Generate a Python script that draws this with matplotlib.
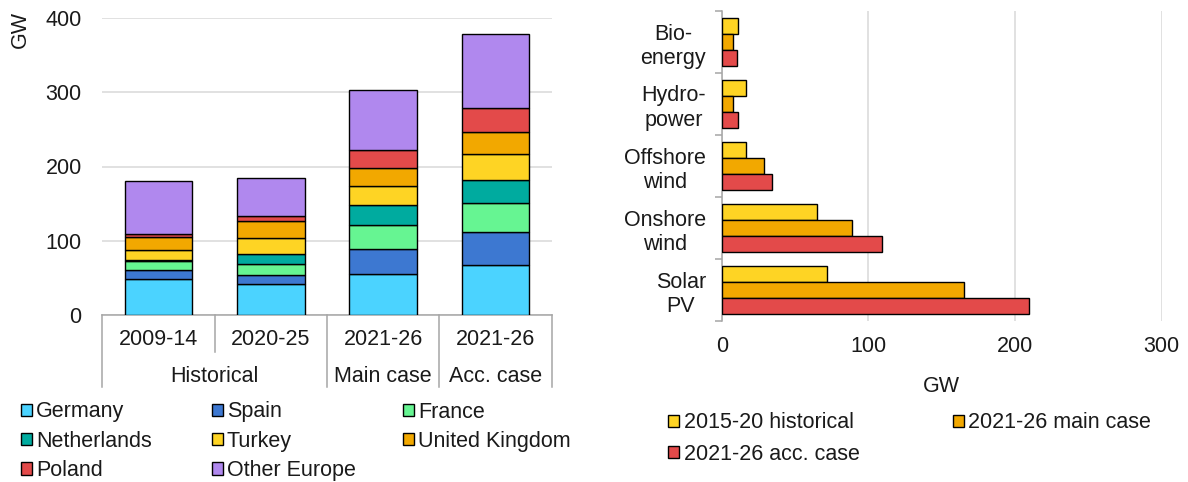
import matplotlib
matplotlib.use("Agg")
import matplotlib.pyplot as plt
import matplotlib.transforms as mtransforms
from matplotlib.patches import Patch
import numpy as np

plt.rcParams['font.family'] = ['Liberation Sans', 'DejaVu Sans']

# ---------------- data: left chart ----------------
periods = ['2009-14', '2020-25', '2021-26', '2021-26']
group_names = ['Historical', 'Main case', 'Acc. case']
group_of_bar = [0, 0, 1, 2]

countries = ['Germany', 'Spain', 'France', 'Netherlands', 'Turkey',
             'United Kingdom', 'Poland', 'Other Europe']
germany = [48.7, 41.6, 55.4, 67.1]
spain = [11.7, 12.5, 34.1, 44.7]
france = [11.7, 14.8, 31.3, 39.5]
netherlands = [1.5, 13.4, 26.8, 30.9]
turkey = [13.4, 21.0, 25.9, 34.0]
united_kingdom = [17.9, 23.2, 25.1, 29.9]
poland = [4.5, 6.7, 23.2, 32.8]
other_europe = [70.7, 51.0, 81.5, 100.1]
left_yticks = [0, 100, 200, 300, 400]

# ---------------- data: right chart ----------------
techs = ['Bio-\nenergy', 'Hydro-\npower', 'Offshore\nwind', 'Onshore\nwind', 'Solar\nPV']
series_names = ['2015-20 historical', '2021-26 main case', '2021-26 acc. case']
hist_2015_20 = [11.3, 16.4, 16.6, 65.0, 72.0]
main_2021_26 = [7.6, 7.6, 28.5, 88.7, 165.2]
acc_2021_26 = [10.6, 10.8, 34.3, 109.3, 209.7]
right_xticks = [0, 100, 200, 300]

# ---------------- styles ----------------
country_colors = ['#4bd3ff', '#3d78d1', '#66f592', '#00ab9f', '#fed424',
                  '#f2a800', '#e34a4a', '#b088ee']
series_colors = ['#fed424', '#f2a800', '#e34a4a']
TXT = '#1a1a1a'
GRID = '#d9d9d9'
AXC = '#a6a6a6'
FS = 15.5
W, H = 1188, 482

fig = plt.figure(figsize=(W / 100, H / 100), dpi=100)


def fx(px):
    return px / W


def fy(py):
    return 1 - py / H


# ---------------- left axes ----------------
L_l, L_r, L_t, L_b = 102.3, 551.7, 18.0, 315.0
axL = fig.add_axes([fx(L_l), fy(L_b), fx(L_r - L_l), (L_b - L_t) / H])
ax_h_px = L_b - L_t

stack = [germany, spain, france, netherlands, turkey, united_kingdom,
         poland, other_europe]
x = np.arange(len(periods))
bottom = np.zeros(len(periods))
for vals, col, name in zip(stack, country_colors, countries):
    axL.bar(x, vals, 0.6, bottom=bottom, color=col, edgecolor='black',
            linewidth=1.0, label=name, zorder=3)
    bottom += np.array(vals)

axL.set_xlim(-0.5, len(periods) - 0.5)
axL.set_ylim(0, 400)
axL.set_yticks(left_yticks)
axL.tick_params(axis='y', length=0, pad=14.8, labelsize=FS, labelcolor=TXT)
axL.set_xticks([])
axL.grid(axis='y', color=GRID, linewidth=1.1, zorder=0)
axL.set_axisbelow(True)
for s in ['top', 'right', 'left']:
    axL.spines[s].set_visible(False)
axL.spines['bottom'].set_color(AXC)
axL.spines['bottom'].set_linewidth(1.1)

blend = mtransforms.blended_transform_factory(axL.transData, axL.transAxes)
# category separators (multi-level axis)
n = len(periods)
for i in range(n + 1):
    long_line = (i == 0 or i == n or group_of_bar[i - 1] != group_of_bar[i])
    depth = 72.0 if long_line else 36.7
    axL.plot([i - 0.5, i - 0.5], [0, -depth / ax_h_px], transform=blend,
             color=AXC, linewidth=1.1, clip_on=False, zorder=1)
# level-1 labels
for i, p in enumerate(periods):
    axL.text(i, -24.3 / ax_h_px, p, transform=blend, ha='center', va='center',
             fontsize=FS, color=TXT)
# level-2 labels
for g, gname in enumerate(group_names):
    idx = [i for i, gg in enumerate(group_of_bar) if gg == g]
    axL.text(np.mean(idx), -61.5 / ax_h_px, gname, transform=blend,
             ha='center', va='center', fontsize=FS, color=TXT)

fig.text(fx(20), fy(30), 'GW', rotation=90, ha='center', va='center',
         fontsize=FS, color=TXT)

# left legend: three columns, row-major order
handles = [Patch(facecolor=c, edgecolor='black', linewidth=1.0)
           for c in country_colors]
col_x = [20.7, 211.7, 402.7]
for c in range(3):
    idxs = list(range(c, len(countries), 3))
    fig.legend([handles[i] for i in idxs], [countries[i] for i in idxs],
               loc='upper left', bbox_to_anchor=(fx(col_x[c]), fy(401.5)),
               frameon=False, fontsize=FS, handlelength=0.52,
               handleheight=0.52, handletextpad=0.19, labelspacing=0.38,
               borderpad=0, borderaxespad=0, labelcolor=TXT)

# ---------------- right axes ----------------
R_l, R_r, R_t, R_b = 721.7, 1161.7, 11.0, 321.0
axR = fig.add_axes([fx(R_l), fy(R_b), fx(R_r - R_l), (R_b - R_t) / H])
y = np.arange(len(techs))
bh = 0.262
for k, (vals, col, name) in enumerate(zip([hist_2015_20, main_2021_26, acc_2021_26],
                                          series_colors, series_names)):
    axR.barh(y + (k - 1) * bh, vals, bh, color=col, edgecolor='black',
             linewidth=1.0, label=name, zorder=3)

axR.set_xlim(0, 300)
axR.set_ylim(len(techs) - 0.5, -0.5)
axR.set_xticks(right_xticks)
axR.set_yticks(y)
axR.set_yticklabels(techs, multialignment='center')
axR.set_yticks(np.arange(len(techs) + 1) - 0.5, minor=True)
axR.tick_params(axis='y', which='major', length=0, pad=11.3, labelsize=FS,
                labelcolor=TXT)
axR.tick_params(axis='y', which='minor', length=5, width=1.1, color=AXC,
                direction='out')
axR.tick_params(axis='x', length=0, pad=10.5, labelsize=FS, labelcolor=TXT)
axR.grid(axis='x', color=GRID, linewidth=1.1, zorder=0)
axR.set_axisbelow(True)
for s in ['top', 'right', 'bottom']:
    axR.spines[s].set_visible(False)
axR.spines['left'].set_color(AXC)
axR.spines['left'].set_linewidth(1.1)
axR.set_xlabel('GW', fontsize=FS, color=TXT, labelpad=14)

rhandles = [Patch(facecolor=c, edgecolor='black', linewidth=1.0)
            for c in series_colors]
rcol_x = [668.3, 952.7]
rcols = [[0, 2], [1]]
for c in range(2):
    idxs = rcols[c]
    fig.legend([rhandles[i] for i in idxs], [series_names[i] for i in idxs],
               loc='upper left', bbox_to_anchor=(fx(rcol_x[c]), fy(412.5)),
               frameon=False, fontsize=FS, handlelength=0.52,
               handleheight=0.52, handletextpad=0.19, labelspacing=0.47,
               borderpad=0, borderaxespad=0, labelcolor=TXT)

fig.savefig('out.png', dpi=100)
